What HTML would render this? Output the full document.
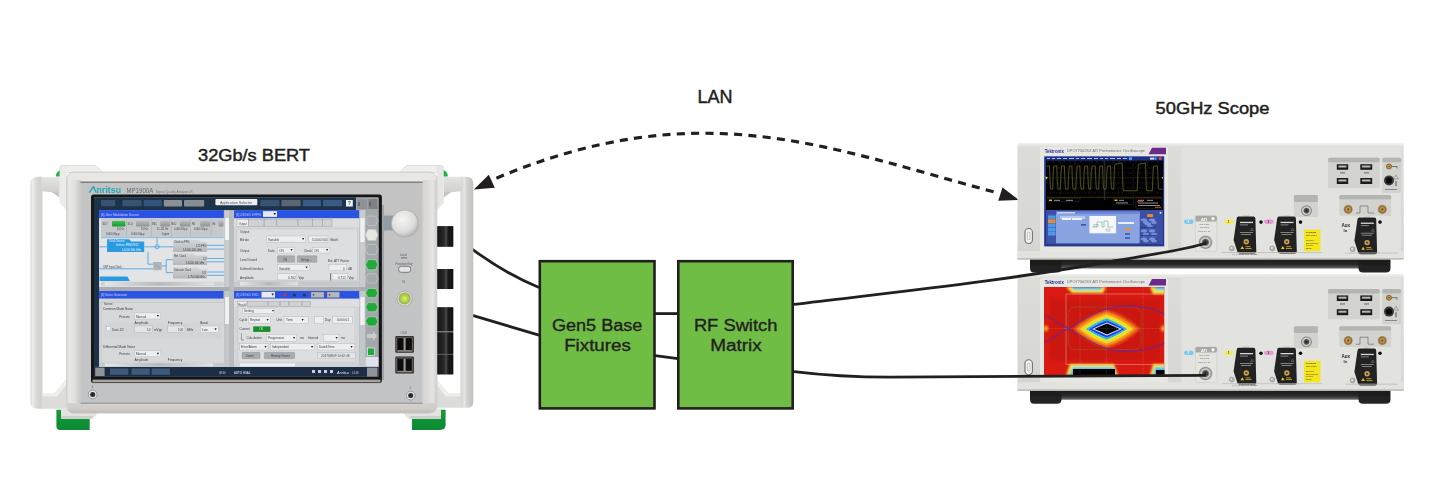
<!DOCTYPE html>
<html><head><meta charset="utf-8">
<style>
html,body{margin:0;padding:0;background:#fff;width:1439px;height:495px;overflow:hidden}
svg{display:block}
text{font-family:"Liberation Sans",sans-serif}
</style></head>
<body>
<svg width="1439" height="495" viewBox="0 0 1439 495">
<rect width="1439" height="495" fill="#fff"/>

<!-- ===== titles ===== -->
<text x="697.5" y="103" font-size="17.5" fill="#231f20" stroke="#231f20" stroke-width="0.45" textLength="35" lengthAdjust="spacingAndGlyphs">LAN</text>
<text x="198" y="160.8" font-size="17" fill="#231f20" stroke="#231f20" stroke-width="0.45" textLength="112" lengthAdjust="spacingAndGlyphs">32Gb/s BERT</text>
<text x="1155.6" y="114.2" font-size="15.6" fill="#231f20" stroke="#231f20" stroke-width="0.45" textLength="113.8" lengthAdjust="spacingAndGlyphs">50GHz Scope</text>

<!-- ===== dashed LAN arc ===== -->
<path d="M494.7,178.9 C700,92 828,147.8 998,193" fill="none" stroke="#231f20" stroke-width="3.2" stroke-dasharray="8.1 6.25" stroke-dashoffset="-1.8"/>
<polygon points="473.8,189.4 488.8,174.8 494.8,187.7" fill="#231f20"/>
<polygon points="1018.7,199.9 1002.5,187.4 998.2,200.7" fill="#231f20"/>

<!-- ===== green boxes ===== -->
<rect x="539.8" y="261.2" width="114.7" height="147.2" fill="#6fbd45" stroke="#231f20" stroke-width="2.6"/>
<rect x="678.3" y="261.2" width="114.4" height="147.2" fill="#6fbd45" stroke="#231f20" stroke-width="2.6"/>
<g font-size="16" fill="#231f20" stroke="#231f20" stroke-width="0.35">
<text x="551.9" y="330.7" textLength="90.5" lengthAdjust="spacingAndGlyphs">Gen5 Base</text>
<text x="564.2" y="351.4" textLength="66.6" lengthAdjust="spacingAndGlyphs">Fixtures</text>
<text x="693.9" y="330.7" textLength="83.5" lengthAdjust="spacingAndGlyphs">RF Switch</text>
<text x="710.2" y="351.4" textLength="51.5" lengthAdjust="spacingAndGlyphs">Matrix</text>
</g>

<!-- ===== cables ===== -->
<g fill="none" stroke="#231f20" stroke-width="2.8">
<path d="M471,248.4 Q507,274.7 539,287.5"/>
<path d="M472.5,315.4 L539,335.1"/>
<path d="M655,313.6 L678,313.6"/>
<path d="M655,355.7 L678,358.6"/>
</g>

<!-- BERT -->
<defs><filter id="soft" x="-2%" y="-2%" width="104%" height="104%"><feGaussianBlur stdDeviation="0.4"/></filter></defs>
<g id="bert" filter="url(#soft)">
<defs>
<linearGradient id="frameV" x1="0" y1="0" x2="1" y2="0">
<stop offset="0" stop-color="#d4d4d2"/><stop offset="0.012" stop-color="#e6e6e4"/><stop offset="0.035" stop-color="#c9c9c7"/><stop offset="0.96" stop-color="#cbcbc9"/><stop offset="0.985" stop-color="#dcdcda"/><stop offset="1" stop-color="#c4c4c2"/>
</linearGradient>
<linearGradient id="barL" x1="0" y1="0" x2="1" y2="0">
<stop offset="0" stop-color="#d8d8d6"/><stop offset="0.2" stop-color="#eeeeec"/><stop offset="0.45" stop-color="#dadad8"/><stop offset="0.85" stop-color="#d0d0ce"/><stop offset="1" stop-color="#dcdcda"/>
</linearGradient>
<linearGradient id="barR" x1="0" y1="0" x2="1" y2="0">
<stop offset="0" stop-color="#d0d0ce"/><stop offset="0.3" stop-color="#e6e6e4"/><stop offset="0.5" stop-color="#d2d2d0"/><stop offset="0.8" stop-color="#c6c7c5"/><stop offset="1" stop-color="#c0c1bf"/>
</linearGradient>
<linearGradient id="panelG" x1="0" y1="0" x2="0" y2="1">
<stop offset="0" stop-color="#c3c3c4"/><stop offset="1" stop-color="#c3c4c5"/>
</linearGradient>
<radialGradient id="knobG" cx="0.4" cy="0.35" r="0.7">
<stop offset="0" stop-color="#f4f4f3"/><stop offset="0.7" stop-color="#dcdcdb"/><stop offset="1" stop-color="#b5b6b6"/>
</radialGradient>
<radialGradient id="pwrG" cx="0.5" cy="0.5" r="0.5">
<stop offset="0" stop-color="#e8f450"/><stop offset="0.45" stop-color="#bcd848"/><stop offset="1" stop-color="#90b060"/>
</radialGradient>
<linearGradient id="greenFoot" x1="0" y1="0" x2="0" y2="1">
<stop offset="0" stop-color="#139a3a"/><stop offset="1" stop-color="#0f8a33"/>
</linearGradient>
</defs>

<!-- top blocks of handles -->
<defs>
<linearGradient id="armG" x1="0" y1="0" x2="0" y2="1"><stop offset="0" stop-color="#e2e2e0"/><stop offset="1" stop-color="#d2d2d0"/></linearGradient>
</defs>
<path d="M59.5,168 Q59.5,165.5 62,165.5 L96,165.5 L103,172.5 L59.5,172.5 Z" fill="#efefed" stroke="#d0d0ce" stroke-width="0.6"/>
<path d="M400,172.5 L406.5,165.5 L441,165.5 Q443.8,165.5 443.8,168 L443.8,172.5 Z" fill="#efefed" stroke="#d0d0ce" stroke-width="0.6"/>
<!-- left handle -->
<path d="M30.4,184 Q30.4,176.8 37.5,176.8 L42.6,176.8 L42.6,408.7 L37,408.7 Q30.4,408.7 30.4,402 Z" fill="url(#barL)"/>
<rect x="41.5" y="177.2" width="18.5" height="14.2" fill="url(#armG)"/>
<path d="M42.6,191.3 L52,192.3 L59.5,197.5 L59.5,191.3 Z" fill="#c6c6c4"/>
<path d="M59.5,165.9 L66.8,165.9 L66.8,210 L59.5,203 Z" fill="#ebebe9"/>
<path d="M59.6,170.5 Q55.6,172.5 56,176.5 L59.6,176.5 Z" fill="#22b04a"/>
<!-- lower left arm -->
<path d="M42,393.5 L54,393.5 L66.5,379 L66.5,408.7 L42,408.7 Z" fill="#dcdcda"/>
<path d="M42.6,393.5 L54,393.5 L66.5,379 L66.5,385 L57,396.5 L42.6,396.5 Z" fill="#eeeeec"/>
<!-- right handle -->
<path d="M460.5,176.8 L466,176.8 Q473.3,176.8 473.3,184 L473.3,402 Q473.3,407.8 467,407.8 L460.5,407.8 Z" fill="url(#barR)"/>
<rect x="443.8" y="176.8" width="17.5" height="14.5" fill="url(#armG)"/>
<path d="M461,191.3 L451,192.3 L443.8,197.5 L443.8,191.3 Z" fill="#c6c6c4"/>
<path d="M436.8,165.9 L443.8,165.9 L443.8,203 L436.8,210 Z" fill="#e6e6e4"/>
<path d="M443.7,170.3 Q448,172 447.8,176.5 L443.7,176.5 Z" fill="#22b04a"/>
<!-- lower right arm -->
<path d="M461,393 L448,393 L436.7,379 L436.7,407.8 L461,407.8 Z" fill="#dcdcda"/>
<path d="M460.5,393 L448,393 L436.7,379 L436.7,385 L446,396.5 L460.5,396.5 Z" fill="#eeeeec"/>
<!-- green feet -->
<path d="M56.4,409.7 L61,409.7 L61,418.8 L89.7,418.8 L89.7,429.9 L60,429.9 Q56.4,429.9 56.4,426 Z" fill="url(#greenFoot)"/>
<path d="M61,408.5 L101,408.5 L93,418.8 L61,418.8 Z" fill="#e4e3e0"/>
<path d="M61,416 L93,416 L91.5,418.8 L61,418.8 Z" fill="#cfcecb"/>
<path d="M445.6,409.7 L441,409.7 L441,418.8 L412,418.8 L412,429.9 L440,429.9 Q445.6,429.9 445.6,425 Z" fill="url(#greenFoot)"/>
<path d="M441,408.5 L400,408.5 L408,418.8 L441,418.8 Z" fill="#e4e3e0"/>
<path d="M441,416 L409.5,416 L410.5,418.8 L441,418.8 Z" fill="#cfcecb"/>
<!-- black connectors on right side -->
<g fill="#1c1c1d">
<rect x="437" y="226.3" width="16.2" height="20.3"/>
<rect x="437" y="269" width="16.2" height="20"/>
<rect x="437" y="307.4" width="16.2" height="24"/>
<rect x="437" y="332.2" width="16.2" height="21.6"/>
<rect x="437" y="354.5" width="16.2" height="19.8"/>
</g>
<defs><linearGradient id="connG" x1="0" y1="0" x2="1" y2="0"><stop offset="0" stop-color="#151515"/><stop offset="0.45" stop-color="#2a2a2a"/><stop offset="0.55" stop-color="#4a4a4a"/><stop offset="0.7" stop-color="#1a1a1a"/><stop offset="1" stop-color="#101010"/></linearGradient></defs>
<g fill="url(#connG)">
<rect x="437" y="226.3" width="16.2" height="20.3"/>
<rect x="437" y="269" width="16.2" height="20"/>
<rect x="437" y="307.4" width="16.2" height="24"/>
<rect x="437" y="332.2" width="16.2" height="21.6"/>
<rect x="437" y="354.5" width="16.2" height="19.8"/>
</g>
<rect x="438" y="331.7" width="15" height="0.6" fill="#8a8a8a"/>

<!-- main frame -->
<defs>
<linearGradient id="fL" x1="0" y1="0" x2="1" y2="0"><stop offset="0" stop-color="#d9d9d7"/><stop offset="0.15" stop-color="#e8e8e6"/><stop offset="0.55" stop-color="#e0e0de"/><stop offset="1" stop-color="#c6c6c4"/></linearGradient>
<linearGradient id="fR" x1="0" y1="0" x2="1" y2="0"><stop offset="0" stop-color="#d4d3d1"/><stop offset="0.4" stop-color="#dcdbd9"/><stop offset="0.75" stop-color="#e6e5e3"/><stop offset="1" stop-color="#cfcecc"/></linearGradient>
<linearGradient id="fB" x1="0" y1="0" x2="0" y2="1"><stop offset="0" stop-color="#d6d3cf"/><stop offset="0.7" stop-color="#cdcac6"/><stop offset="1" stop-color="#bdbab6"/></linearGradient>
</defs>
<rect x="66.7" y="172.1" width="370.1" height="241" rx="7" fill="#e9e7e4" stroke="#c2c2c0" stroke-width="0.8"/>
<rect x="67.2" y="180" width="13.6" height="225" fill="url(#fL)"/>
<rect x="422.6" y="180" width="13.8" height="225" fill="url(#fR)"/>
<path d="M67.2,403 L436.4,403 L436.4,406 Q436.4,412.7 429,412.7 L74,412.7 Q67.2,412.7 67.2,406 Z" fill="url(#fB)"/>
<!-- inner panel -->
<rect x="80.5" y="182" width="342.1" height="221.5" fill="url(#panelG)"/>
<rect x="80.5" y="181.5" width="342.1" height="1.5" fill="#7f7f7f"/>
<rect x="80.5" y="402.7" width="342.1" height="1" fill="#8e8e8e"/>
<!-- Anritsu logo -->
<path d="M89.3,192.7 L93.6,186.4 L96.2,192.7" fill="none" stroke="#1fa9b4" stroke-width="1.35" stroke-linejoin="bevel"/>
<text x="96.6" y="192.7" font-size="8.6" font-weight="bold" fill="#1fa9b4" textLength="24.5" lengthAdjust="spacingAndGlyphs">nritsu</text>
<text x="126.5" y="192.9" font-size="6.9" fill="#65676b" textLength="26.7" lengthAdjust="spacingAndGlyphs">MP1900A</text>
<text x="155.7" y="192.6" font-size="3.4" fill="#76787c" textLength="37" lengthAdjust="spacingAndGlyphs">Signal Quality Analyzer-R</text>
<!-- screen black frame -->
<rect x="91" y="194.4" width="290.9" height="188.5" rx="2.5" fill="#141517"/>
<rect x="92.5" y="379.6" width="288" height="2.6" fill="#aaa39b"/>
<rect x="92.5" y="382.2" width="288" height="0.9" fill="#5a5a5a"/>
<rect x="382" y="205" width="2" height="175" fill="#9fa3a6"/>

<!-- knob -->
<rect x="383.5" y="215.5" width="10" height="15" fill="#929ba2"/>
<circle cx="405" cy="223.6" r="14" fill="#b3b4b4"/>
<circle cx="404.8" cy="223.3" r="12.8" fill="url(#knobG)"/>
<!-- function key -->
<text x="400" y="256" font-size="2.8" fill="#55585c">Local</text>
<rect x="401" y="257.5" width="6" height="0.8" fill="#55585c"/>
<text x="395.5" y="265" font-size="3" fill="#55585c" textLength="17">Function Key</text>
<rect x="398.6" y="266.3" width="12.1" height="6" rx="2.5" fill="#e4e4e3" stroke="#6f7275" stroke-width="0.9"/>
<text x="402" y="283" font-size="4" fill="#55585c">&#x23FB;</text>
<circle cx="404.6" cy="298.6" r="7.6" fill="#d6dccf" stroke="#9ea592" stroke-width="0.7"/>
<circle cx="404.6" cy="298.6" r="6" fill="url(#pwrG)"/>
<!-- USB -->
<text x="400.5" y="334.3" font-size="3" fill="#6a6c70">USB</text>
<g id="usbblk">
<rect x="395.3" y="336" width="18.6" height="16.8" rx="1.2" fill="#2c2b2a"/>
<rect x="396.6" y="337.3" width="16" height="14.2" rx="0.6" fill="none" stroke="#8d8a86" stroke-width="0.6"/>
<rect x="397.8" y="338.6" width="5.6" height="11.5" fill="#0e0e0e"/>
<rect x="405.8" y="338.6" width="5.6" height="11.5" fill="#0e0e0e"/>
<rect x="403.6" y="338" width="2" height="12.5" fill="#9e9a94"/>
<rect x="397.5" y="350.3" width="14.2" height="0.9" fill="#a8a49e"/>
</g>
<use href="#usbblk" transform="translate(0,20.6)"/>
<g fill="#3a3a3a" opacity="0.9"><rect x="412.5" y="340" width="1" height="3"/></g>
<!-- headphone jacks -->
<circle cx="92.7" cy="394.5" r="4.4" fill="#e2e2e0" stroke="#8a8b8c" stroke-width="0.8"/><circle cx="92.7" cy="394.5" r="2.5" fill="#2a2a2a"/>
<circle cx="410.7" cy="395.6" r="4.4" fill="#e2e2e0" stroke="#8a8b8c" stroke-width="0.8"/><circle cx="410.7" cy="395.6" r="2.5" fill="#2a2a2a"/>
<text x="90.5" y="388" font-size="4" fill="#6a6c6e">&#x23DA;</text>
<text x="408.5" y="389" font-size="4" fill="#6a6c6e">&#x23DA;</text>


<g id="screen">
<!-- base -->
<rect x="94" y="197.5" width="284.5" height="179" fill="#a9adb1"/>
<!-- toolbar -->
<rect x="94" y="197.5" width="262" height="12.7" fill="#1f3049"/>
<g fill="#37526f">
<rect x="101" y="200" width="14.3" height="6.2" rx="0.8"/>
<rect x="122.4" y="200" width="19.2" height="6.2" rx="0.8"/>
<rect x="143.6" y="200" width="18.2" height="6.2" rx="0.8" fill="#31527a"/>
<rect x="163.8" y="200" width="18.2" height="6.5" rx="0.8" fill="#8d9093"/>
<rect x="184" y="200" width="20.2" height="6.5" rx="0.8" fill="#8b8e91"/>
<rect x="260.3" y="200" width="19.2" height="6.2" rx="0.8"/>
<rect x="281.5" y="200" width="19.2" height="6.2" rx="0.8" fill="#5d6570"/>
<rect x="302.7" y="200" width="18.3" height="6.2" rx="0.8" fill="#3a5a88"/>
<rect x="323" y="200" width="19" height="6.2" rx="0.8" fill="#3a5a88"/>
</g>
<rect x="215.4" y="199" width="41.9" height="6.2" rx="0.8" fill="#eceeef"/>
<text x="220" y="203.5" font-size="3" fill="#555" textLength="32" lengthAdjust="spacingAndGlyphs">Application Selector</text>
<rect x="346" y="200" width="6.8" height="6.5" fill="#f4f4f6"/>
<text x="347.8" y="205.3" font-size="5" fill="#2a3fae" font-weight="bold">?</text>
<!-- left dark sidebar -->
<rect x="94" y="209.2" width="5.1" height="157.7" fill="#1f3049"/>
<!-- right sidebar -->
<rect x="356" y="197.5" width="22.5" height="12" fill="#a2a6aa"/>
<rect x="365.4" y="209" width="13.1" height="158" fill="#a4a8ac"/>
<rect x="357.3" y="199" width="10" height="10" fill="#8e9296"/>
<rect x="368.4" y="199" width="9.1" height="10" fill="#7d8185"/>
<rect x="358.5" y="202" width="1" height="4" fill="#444"/><rect x="369.5" y="202" width="1" height="4" fill="#444"/>
<!-- hexagon buttons -->
<g stroke="#c3c6c9" stroke-width="0.8" fill="#a5a9ad">
<path d="M368,216 L375.5,216 L378,220.7 L375.5,225.4 L368,225.4 L365.5,220.7 Z"/>
<path d="M368,244.5 L375.5,244.5 L378,249.5 L375.5,254.6 L368,254.6 L365.5,249.5 Z"/>
<path d="M368,273.8 L375.5,273.8 L378,278.4 L375.5,283 L368,283 L365.5,278.4 Z"/>
</g>
<path d="M368,229.4 L375.5,229.4 L378,235 L375.5,240.5 L368,240.5 L365.5,235 Z" fill="#e3e9df" stroke="#c3c6c9" stroke-width="0.6"/>
<g fill="#22a83b" stroke="#b7dcb9" stroke-width="0.6">
<path d="M368,259.7 L375.5,259.7 L378,264.7 L375.5,269.8 L368,269.8 L365.5,264.7 Z"/>
<path d="M368,288.5 L375.5,288.5 L378,293 L375.5,297.6 L368,297.6 L365.5,293 Z"/>
<path d="M368,302.6 L375.5,302.6 L378,307.1 L375.5,311.7 L368,311.7 L365.5,307.1 Z"/>
<path d="M368,316.8 L375.5,316.8 L378,321.3 L375.5,325.9 L368,325.9 L365.5,321.3 Z"/>
</g>
<path d="M367,334 L373,334 L373,331 L377,336 L373,341 L373,338 L367,338 Z" fill="#c9ccce"/>
<rect x="367.5" y="348" width="7" height="7.5" fill="#22a83b" stroke="#fff" stroke-width="0.6"/>
<rect x="365.4" y="357" width="13" height="9.5" fill="#dfe3ec"/>
<rect x="368" y="368" width="5" height="6" fill="#7f8388"/>

<!-- panel TL -->
<rect x="99.1" y="210.2" width="124.7" height="8.1" fill="#2b53e3"/>
<text x="101" y="215.8" font-size="3" fill="#c8d4ff" textLength="38" lengthAdjust="spacingAndGlyphs">[4] Jitter Modulation Source</text>
<rect x="99.1" y="218.3" width="125.3" height="68.7" fill="#e2e4e6"/>
<rect x="224.4" y="210.2" width="5.1" height="76.8" fill="#c9cbcd"/>
<rect x="225" y="218" width="4" height="22" fill="#f2f3f4"/>
<defs><linearGradient id="btnG" x1="0" y1="0" x2="0" y2="1"><stop offset="0" stop-color="#b8bbbe"/><stop offset="1" stop-color="#8e9296"/></linearGradient>
<linearGradient id="blkG" x1="0" y1="0" x2="0" y2="1"><stop offset="0" stop-color="#d4d6d8"/><stop offset="1" stop-color="#b4b7ba"/></linearGradient>
<linearGradient id="onG" x1="0" y1="0" x2="0" y2="1"><stop offset="0" stop-color="#3cc450"/><stop offset="1" stop-color="#149a2a"/></linearGradient></defs>
<rect x="101" y="218.8" width="122.8" height="18.2" fill="#c6c9cc"/>
<g fill="#a9adb1"><rect x="126" y="219" width="0.5" height="18"/><rect x="151" y="219" width="0.5" height="18"/><rect x="170.8" y="219" width="0.5" height="18"/><rect x="190.5" y="219" width="0.5" height="18"/><rect x="210.9" y="219" width="0.5" height="18"/></g>
<rect x="112" y="221" width="13.3" height="5.4" rx="1" fill="url(#onG)"/>
<g fill="url(#btnG)">
<rect x="136" y="221" width="13.5" height="5.4" rx="1"/><rect x="160.2" y="221" width="9.8" height="5.4" rx="1"/>
<rect x="179.8" y="221" width="10.7" height="5.4" rx="1"/><rect x="200.3" y="221" width="9.9" height="5.4" rx="1"/><rect x="218.5" y="221" width="5" height="5.4" rx="1"/>
</g>
<g fill="#3e4145" font-size="2.6">
<text x="102.6" y="224.8">SUT</text><text x="127.6" y="224.8">SLD</text><text x="151.8" y="224.8">SSC</text><text x="171.5" y="224.8">BUJ</text><text x="192" y="224.8">RJ</text><text x="212.4" y="224.8">E4</text>
<text x="117" y="230.3">10 Hz</text><text x="106" y="234.6">0.000 UIp-p</text>
<text x="141" y="230.3">10 Hz</text><text x="131" y="234.6">0.000 UIp-p</text>
<text x="157" y="230.3">11.111 Hz</text><text x="162" y="234.6">0 ppm</text>
<text x="174" y="230.3">0.000 UIp-p</text><text x="194" y="230.3">0.000 UIp-p</text>
</g>
<rect x="101" y="237.3" width="122.8" height="0.8" fill="#6fb6e6"/>
<path d="M107.1,239.2 L129,239.2 L131.5,241.5 L144.2,241.5 L144.2,252.1 L107.1,252.1 Z" fill="#2a9be0"/>
<g fill="#e8f4ff" font-size="2.6"><text x="109" y="242.3">Clock Source</text><text x="116" y="246.3">Intrinsic PRBS/SSC</text><text x="122" y="250.8">14.000 000 GHz</text></g>
<g fill="url(#blkG)">
<path d="M173,240 L199,240 L201,242 L207.1,242 L207.1,252.1 L173,252.1 Z"/>
<path d="M173,253.6 L194,253.6 L196,255.6 L207.1,255.6 L207.1,265 L173,265 Z"/>
<path d="M173,267.3 L198,267.3 L200,269.3 L207.1,269.3 L207.1,278.6 L173,278.6 Z"/>
</g>
<g fill="#3e4145" font-size="2.6">
<text x="174" y="243.2">Clock to PPG</text><text x="196" y="246.8">125 PPG</text><text x="183" y="251">14.000 000 GHz</text>
<text x="174" y="257">Ref. Clock</text><text x="203" y="260.3">1/1</text><text x="186" y="264.3">14.000 000 kHz</text>
<text x="174" y="270.6">Sub-rate Clock</text><text x="202" y="274">1/8</text><text x="188" y="278">1.750 000 kHz</text>
</g>
<g stroke="#3d9ee0" stroke-width="0.8" fill="none">
<path d="M99.5,246.8 L107,246.8 M144.2,246.8 L173,246.8 M207.1,245.3 L224,245.3 M207.1,249.1 L224,249.1"/>
<path d="M157.1,237.5 L157.1,244.8"/>
<circle cx="157.1" cy="246.8" r="2"/>
<path d="M148,252.1 L148,264.2 L153.3,264.2 M99.5,268.8 L153.3,268.8 M161.7,266 L166.2,266 L166.2,259.7 L173,259.7 M166.2,266 L166.2,272.6 L173,272.6"/>
<path d="M207.1,258.5 L224,258.5 M207.1,261.8 L224,261.8 M207.1,272 L224,272 M207.1,275.3 L224,275.3"/>
</g>
<rect x="153.3" y="262" width="8.4" height="8.3" fill="#b2b5b8"/>
<path d="M154.5,264 L160.5,268" stroke="#3d9ee0" stroke-width="0.5"/>
<text x="103" y="268" font-size="2.6" fill="#3e4145">SSP Input Clock</text>
<path d="M99.5,276.4 L127.5,276.4 L129.8,280.9 L99.5,280.9 Z" fill="#2a9be0"/>
<rect x="101" y="281.7" width="122.8" height="4.5" fill="#cfd2d4"/>
<rect x="104.8" y="282.3" width="109.1" height="3.2" fill="url(#thumbG)"/>

<!-- panel TR -->
<rect x="234" y="210.2" width="125.3" height="8.1" fill="#2b53e3"/>
<text x="236" y="215.8" font-size="3" fill="#c8d4ff">[3] 2/32G/5 S PPG</text>
<rect x="263" y="211.2" width="14" height="5.7" fill="#e8eaec"/>
<path d="M273.5,213 L276,213 L274.75,215.3 Z" fill="#222"/>
<rect x="234" y="218.3" width="125.3" height="68.7" fill="#d4d6d8"/>
<rect x="359.5" y="210.2" width="5.9" height="76.8" fill="#c9cbcd"/>
<rect x="360.3" y="218" width="4.3" height="24" fill="#eef0f1"/>
<rect x="234" y="219" width="125.3" height="7.6" fill="#dcdee0"/>
<g fill="#cfd2d4" stroke="#8a8e92" stroke-width="0.35">
<rect x="237" y="219.6" width="11.2" height="6.8" fill="#eceeef"/>
<rect x="248.8" y="219.6" width="15.2" height="6.8"/><rect x="264.4" y="219.6" width="12.1" height="6.8"/>
<rect x="276.9" y="219.6" width="20.8" height="6.8"/><rect x="298.1" y="219.6" width="14.3" height="6.8"/>
<rect x="312.8" y="219.6" width="9.5" height="6.8"/><rect x="322.7" y="219.6" width="9.3" height="6.8"/>
</g>
<rect x="237" y="229" width="120.3" height="51.5" fill="#dcdee0" stroke="#c0c3c6" stroke-width="0.4"/>
<g fill="#eceeef" stroke="#a8acb0" stroke-width="0.35">
<rect x="266.4" y="236" width="39.4" height="6.1"/><rect x="308.8" y="236" width="19.2" height="6.1"/>
<rect x="277.5" y="247.2" width="17.2" height="5.8"/><rect x="312.8" y="247.2" width="17.2" height="5.8"/>
<rect x="277.5" y="264.7" width="32.3" height="6.1"/><rect x="329" y="264.7" width="17.2" height="6.1"/>
<rect x="277.5" y="273.8" width="19.2" height="6.1"/><rect x="332" y="273.8" width="15.2" height="6.1"/>
</g>
<rect x="277.5" y="255.7" width="17.2" height="6.6" rx="0.6" fill="#a9acaf" stroke="#7a7e82" stroke-width="0.3"/>
<rect x="297.3" y="255.7" width="19.6" height="6.6" rx="0.6" fill="#a9acaf" stroke="#7a7e82" stroke-width="0.3"/>
<g fill="#222"><path d="M302,238 h2.2 l-1.1,2 z M290.5,249 h2.2 l-1.1,2 z M326,249 h2.2 l-1.1,2 z M305.5,266.6 h2.2 l-1.1,2 z"/></g>
<rect x="330.2" y="273" width="0.6" height="7.5" fill="#444"/>
<g fill="#3e4145" font-size="3.1">
<text x="239" y="224.8" font-size="2.6">Output</text>
<text x="240" y="233">Output</text>
<text x="240" y="240.5">Bitrate</text><text x="268" y="240.5">Variable</text><text x="312" y="240.5">10.000 000</text><text x="330" y="240.5">Gbit/s</text>
<text x="240" y="251.5">Output</text><text x="268" y="251.5">Data</text><text x="279" y="251.5">ON</text><text x="304" y="251.5">Clock</text><text x="314" y="251.5">ON</text>
<text x="240" y="260.5">Level Guard</text><text x="283" y="260.5">Off</text><text x="301" y="260.5">Setup...</text><text x="328" y="262">Ext. ATT Factor</text>
<text x="240" y="269.5">Defined Interface</text><text x="279" y="269.5">Variable</text><text x="343" y="269.5">0</text><text x="348" y="269.5">dB</text>
<text x="240" y="278.5">Amplitude</text><text x="288" y="278.5">0.762</text><text x="298.5" y="278.5">Vpp</text><text x="338" y="278.5">0.712</text><text x="348.5" y="278.5">Vpp</text>
</g>
<rect x="234" y="281.3" width="125.3" height="5" fill="#c6c9cc"/>
<defs><linearGradient id="thumbG" x1="0" y1="0" x2="1" y2="0"><stop offset="0" stop-color="#e6e7e8"/><stop offset="0.5" stop-color="#b6b8ba"/><stop offset="1" stop-color="#e2e3e4"/></linearGradient></defs>
<rect x="240" y="282" width="57.7" height="3.4" fill="url(#thumbG)"/>
<rect x="229.5" y="210.2" width="4.5" height="157" fill="#b9bcbf"/>

<!-- panel BL -->
<rect x="99.1" y="291" width="124.3" height="7.7" fill="#2b53e3"/>
<text x="101" y="296.3" font-size="3" fill="#c8d4ff">[6] Noise Generator</text>
<rect x="99.1" y="298.7" width="125.3" height="68.2" fill="#d2d4d6"/>
<rect x="224.4" y="291" width="5.1" height="76" fill="#c4c7c9"/>
<rect x="225" y="297" width="4" height="27" fill="#eef0f1"/>
<rect x="101.1" y="302.2" width="123.3" height="63.7" fill="#d6d8da" stroke="#b8bbbe" stroke-width="0.4"/>
<rect x="104" y="323" width="118" height="16" fill="#cfd3d5" opacity="0.6"/>
<g fill="#eceeef" stroke="#a8acb0" stroke-width="0.35">
<rect x="134.5" y="312.9" width="26.3" height="6.1"/>
<rect x="134.5" y="326" width="17.8" height="6.5" fill="#e2e4e6"/><rect x="167.8" y="326" width="17.2" height="6.5" fill="#e2e4e6"/><rect x="200.2" y="326" width="18.2" height="6.5"/>
<rect x="134.5" y="350.7" width="26.3" height="6.1"/>
<rect x="106.6" y="326.8" width="3.8" height="4" fill="#f2f3f4"/>
</g>
<g fill="#222"><path d="M156.8,315 h2.2 l-1.1,2 z M214.5,328.3 h2.2 l-1.1,2 z M156.8,352.8 h2.2 l-1.1,2 z"/></g>
<g fill="#3e4145" font-size="3.1">
<text x="104" y="304.6" font-size="2.7">Source</text>
<text x="103" y="310">Common Mode Noise</text>
<text x="119.3" y="317.5">Presets</text><text x="136" y="317.5">Manual</text>
<text x="134.5" y="323.6">Amplitude</text><text x="167.8" y="323.6">Frequency</text><text x="200.2" y="323.6">Band</text>
<text x="112" y="330.9">Data 1/2</text><text x="147" y="330.9">10</text><text x="154" y="330.9">mVpp</text><text x="178" y="330.9">100</text><text x="187" y="330.9">MHz</text><text x="202" y="330.9">Low</text>
<text x="103" y="347.8">Differential Mode Noise</text>
<text x="119.3" y="355.3">Presets</text><text x="136" y="355.3">Manual</text>
<text x="134.5" y="361">Amplitude</text><text x="167.8" y="361">Frequency</text>
</g>
<rect x="99.1" y="362.8" width="125.3" height="4.1" fill="#c6c9cc"/>
<rect x="105" y="363.4" width="108" height="2.9" fill="url(#thumbG)"/>

<!-- panel BR -->
<rect x="234" y="291" width="125.3" height="7.7" fill="#2b53e3"/>
<text x="236" y="296.3" font-size="3" fill="#c8d4ff">[3] 2/32G/5 S ED</text>
<rect x="261.5" y="291.8" width="13.5" height="5.8" fill="#e8eaec"/>
<path d="M271.5,293.5 L274,293.5 L272.75,295.8 Z" fill="#222"/>
<circle cx="284.8" cy="294.9" r="1.5" fill="#e02a2a"/><circle cx="294.5" cy="294.9" r="1.5" fill="#333"/><circle cx="304.3" cy="294.9" r="1.5" fill="#333"/>
<rect x="311" y="292" width="13" height="5.6" fill="#b4b8bc" stroke="#6a6e72" stroke-width="0.3"/><rect x="327" y="292" width="12.5" height="5.6" fill="#b4b8bc" stroke="#6a6e72" stroke-width="0.3"/>
<circle cx="313.5" cy="294.8" r="0.9" fill="#1a7a2a"/><circle cx="329.5" cy="294.8" r="0.9" fill="#d02020"/>
<rect x="234" y="298.7" width="125.3" height="68.2" fill="#d4d6d8"/>
<rect x="359.5" y="291" width="5.9" height="76" fill="#c4c7c9"/>
<rect x="360.3" y="297" width="4.3" height="28" fill="#eef0f1"/>
<rect x="234" y="299.5" width="125.3" height="7.3" fill="#dcdee0"/>
<g fill="#cfd2d4" stroke="#8a8e92" stroke-width="0.35">
<rect x="237.3" y="301.5" width="9.5" height="5.3" fill="#eceeef"/>
<rect x="247.3" y="301.5" width="20.5" height="5.3"/><rect x="268.3" y="301.5" width="11.5" height="5.3"/>
<rect x="280.3" y="301.5" width="8.5" height="5.3"/><rect x="289.3" y="301.5" width="12.5" height="5.3"/><rect x="302.3" y="301.5" width="8.5" height="5.3"/>
</g>
<rect x="238" y="307" width="117" height="55" fill="#dcdee0" stroke="#c0c3c6" stroke-width="0.4"/>
<g fill="#eceeef" stroke="#a8acb0" stroke-width="0.35">
<rect x="242.5" y="308.2" width="32.3" height="5.5"/>
<rect x="248.6" y="316.7" width="21.8" height="6.7"/><rect x="284" y="316.7" width="24.4" height="6.7"/>
<rect x="314.8" y="316.7" width="8.5" height="6.7"/><rect x="332.6" y="316.7" width="19.6" height="6.7"/>
<rect x="266.4" y="334.5" width="30.3" height="6.7"/><rect x="323.3" y="334.5" width="15.7" height="6.7"/>
<rect x="239.7" y="343.6" width="28.3" height="6.4"/><rect x="270.8" y="343.6" width="44" height="6.4"/><rect x="317.3" y="343.6" width="37.5" height="6.4"/>
<rect x="317.3" y="352.3" width="38" height="6.4" fill="#e2e4e6"/>
</g>
<g fill="#222"><path d="M272,310 h2 l-1,1.8 z M266.5,319 h2.2 l-1.1,2 z M301.5,319 h2.2 l-1.1,2 z M293,337 h2.2 l-1.1,2 z M335.5,337 h2.2 l-1.1,2 z M264.5,346 h2.2 l-1.1,2 z M311,346 h2.2 l-1.1,2 z M350.5,346 h2.2 l-1.1,2 z"/></g>
<rect x="253.2" y="326.4" width="17.2" height="5.5" fill="#1b8c2c"/>
<text x="259.5" y="330.3" font-size="2.6" fill="#d8f0d8">OK</text>
<rect x="242" y="352.3" width="18" height="6.4" rx="0.6" fill="#a9acaf" stroke="#7a7e82" stroke-width="0.3"/>
<rect x="264.3" y="352.3" width="30.3" height="6.4" rx="0.6" fill="#a9acaf" stroke="#7a7e82" stroke-width="0.3"/>
<path d="M241.5,333 L241.5,340 L244,340" fill="none" stroke="#555" stroke-width="0.5"/>
<g fill="#3e4145" font-size="3.1">
<text x="244" y="312.3">Setting</text>
<text x="239.5" y="321.3">Cycle</text><text x="250" y="321.3">Repeat</text><text x="276.5" y="321.3">Unit</text><text x="286" y="321.3">Time</text><text x="325" y="321.3">Day</text><text x="337" y="321.3">00:00:01</text>
<text x="239.5" y="329.8">Current</text><text x="246.5" y="339">Calculation</text><text x="268" y="339">Progressive</text><text x="300" y="339">ms</text><text x="308" y="339">Interval</text><text x="341" y="339">ms</text>
<text x="241" y="348.2">Error/Alarm</text><text x="272" y="348.2">Independent</text><text x="319" y="348.2">Date&amp;Time</text>
<text x="246" y="356.7">Zoom</text><text x="271" y="356.7">History Reset</text><text x="321" y="356.7">2017/08/09 14:42:48</text>
<text x="238.5" y="305.5" font-size="2.6">Result</text>
</g>
<rect x="234" y="362.8" width="125.3" height="4.1" fill="#cfd2d4"/>
<rect x="240" y="363.4" width="55" height="2.9" fill="#eef0f1"/>

<!-- taskbar -->
<rect x="94" y="367" width="284.5" height="9.7" fill="#1c2d45"/>
<rect x="95.2" y="367.6" width="9.4" height="8.4" fill="#8f9499"/>
<rect x="367" y="367.6" width="10.5" height="9" fill="#8f9499"/>
<g fill="#3f5a7c">
<rect x="110" y="368.5" width="18.4" height="6.3"/><rect x="131.5" y="368.5" width="18.2" height="6.3"/><rect x="151.7" y="368.5" width="18.2" height="6.3"/>
</g>
<text x="219" y="373.5" font-size="2.8" fill="#c8d0dc">0E30</text>
<text x="234" y="373.5" font-size="2.8" fill="#c8d0dc" font-weight="bold">AUTO HGAL</text>
<g fill="#c8d0dc"><rect x="312" y="370" width="3" height="3"/><rect x="318" y="370" width="3" height="3"/><rect x="324" y="370" width="3" height="3"/><rect x="330" y="370" width="3" height="3"/></g>
<text x="337" y="374" font-size="3.8" font-style="italic" fill="#e4e8ee">Anritsu</text>
<text x="352" y="373.5" font-size="2.6" fill="#c8d0dc">14:48</text>
</g>

</g>

<!-- SCOPES -->
<g id="scopes" filter="url(#soft)">
<defs>
<linearGradient id="scTop" x1="0" y1="0" x2="0" y2="1">
<stop offset="0" stop-color="#f2f2ef"/><stop offset="1" stop-color="#dcdcd8"/>
</linearGradient>
<linearGradient id="scBody" x1="0" y1="0" x2="0" y2="1">
<stop offset="0" stop-color="#dcdcd8"/><stop offset="0.85" stop-color="#d7d7d3"/><stop offset="1" stop-color="#d2d2ce"/>
</linearGradient>
<linearGradient id="feetG" x1="0" y1="0" x2="0" y2="1">
<stop offset="0" stop-color="#1a1a1a"/><stop offset="1" stop-color="#262626"/>
</linearGradient>
<radialGradient id="brass" cx="0.5" cy="0.5" r="0.5">
<stop offset="0" stop-color="#4a3418"/><stop offset="0.35" stop-color="#c89a4a"/><stop offset="0.75" stop-color="#8a6a3a"/><stop offset="1" stop-color="#c0c0b8"/>
</radialGradient>
<radialGradient id="silverC" cx="0.5" cy="0.5" r="0.5">
<stop offset="0" stop-color="#222"/><stop offset="0.4" stop-color="#555"/><stop offset="0.6" stop-color="#d8d8d4"/><stop offset="0.85" stop-color="#8d8d88"/><stop offset="1" stop-color="#c9c9c4"/>
</radialGradient>
<g id="scopeBody">
<!-- feet / base -->
<defs><linearGradient id="baseG" x1="0" y1="0" x2="0" y2="1"><stop offset="0" stop-color="#1c1c1c"/><stop offset="0.6" stop-color="#2a2a2a"/><stop offset="1" stop-color="#6a6a6a"/></linearGradient></defs>
<rect x="1058" y="259" width="302" height="9.5" fill="url(#baseG)"/>
<path d="M1030,259 L1061.5,259 L1061.5,268 Q1061.5,272.5 1057,272.5 L1034,272.5 Q1030,272.5 1030,268 Z" fill="url(#feetG)"/>
<path d="M1358.5,259 L1390.5,259 L1390.5,268 Q1390.5,272.5 1386,272.5 L1363,272.5 Q1358.5,272.5 1358.5,268 Z" fill="url(#feetG)"/>
<!-- body -->
<path d="M1017.5,147 Q1017.5,143 1022,143 L1399.5,143 Q1403.7,143 1403.7,147 L1403.7,259.5 L1017.5,259.5 Z" fill="url(#scBody)"/>
<rect x="1018" y="143" width="385.5" height="4" fill="url(#scTop)"/>
<rect x="1017.5" y="251" width="386" height="7.5" fill="#e2e2de"/>
<rect x="1017.5" y="258.2" width="386" height="1.3" fill="#b8b8b4"/>
<!-- right panel plate -->
<path d="M1181.5,150 Q1181.5,146.5 1185,146.5 L1401,146.5 L1401,255 L1181.5,255 Z" fill="#e2e2de"/>
<!-- screen bezel plate -->
<rect x="1040" y="146.5" width="128" height="105" rx="2" fill="#e6e6e2"/>
<!-- left button -->
<rect x="1025" y="228.5" width="7.4" height="15" rx="3.7" fill="#f6f6f4" stroke="#6f7072" stroke-width="1.1"/>
<rect x="1027.4" y="232" width="2.6" height="8" rx="1.3" fill="none" stroke="#8a8b8c" stroke-width="0.5"/>
<!-- header text -->
<text x="1044.8" y="152.5" font-size="5" font-weight="bold" fill="#2a2f8f" textLength="19" lengthAdjust="spacingAndGlyphs" font-family="Liberation Serif">Tektronix</text>
<text x="1067" y="152.3" font-size="4.2" fill="#707070" textLength="78" lengthAdjust="spacingAndGlyphs" font-family="Liberation Serif">DPO77002SX  ATI Performance Oscilloscope</text>
<path d="M1152,147.8 L1166,147.8 L1166,154.2 L1148.5,154.2 Z" fill="#6c2a8a"/>
<!-- USB panel -->
<rect x="1328" y="157.7" width="51.7" height="30.3" rx="1.5" fill="#d2d3cf"/>
<rect x="1328" y="157.7" width="51.7" height="4.5" rx="1.5" fill="#b4b5b2"/>
<g fill="#1e1e1e">
<rect x="1336.8" y="164.2" width="11.4" height="5.6"/><rect x="1360.3" y="164.2" width="11.9" height="5.6"/>
<rect x="1336.8" y="178" width="11.4" height="6"/><rect x="1360.3" y="178" width="11.9" height="6"/>
</g>
<g fill="#b6b6b2"><rect x="1338.5" y="165.5" width="8" height="2"/><rect x="1362" y="165.5" width="8.5" height="2"/><rect x="1338.5" y="179.5" width="8" height="2"/><rect x="1362" y="179.5" width="8.5" height="2"/></g>
<g fill="#8a8b88"><rect x="1340" y="172" width="5" height="1.5"/><rect x="1364" y="172" width="5" height="1.5"/></g>
<!-- ground panel -->
<rect x="1382.3" y="157.7" width="18.9" height="35.3" rx="1.5" fill="#d2d3cf"/>
<rect x="1382.3" y="157.7" width="18.9" height="4.5" rx="1.5" fill="#b4b5b2"/>
<circle cx="1389" cy="166.5" r="3.3" fill="url(#brass)"/>
<path d="M1392,166.5 L1397,166.5 L1397,168.5" stroke="#333" stroke-width="0.6" fill="none"/>
<circle cx="1389" cy="180.4" r="5" fill="#3a3a3a"/><circle cx="1389" cy="180.4" r="3.2" fill="#111"/>
<path d="M1396,175 L1398.5,179 L1393.5,179 Z" fill="none" stroke="#555" stroke-width="0.4"/>
<rect x="1395.6" y="181" width="0.8" height="5" fill="#333"/>
<rect x="1385" y="189" width="12" height="0.8" fill="#777"/>
<!-- DC probe cal -->
<rect x="1293.9" y="195" width="24" height="22" rx="1.5" fill="#d2d3cf"/>
<rect x="1293.9" y="195" width="24" height="6.9" rx="1.5" fill="#b4b5b2"/>
<circle cx="1306.5" cy="210.7" r="5.8" fill="url(#silverC)"/>
<!-- diff panel -->
<rect x="1339.3" y="195" width="51.8" height="20.7" rx="1.5" fill="#d2d3cf"/>
<rect x="1339.3" y="195" width="51.8" height="4.3" rx="1.5" fill="#b4b5b2"/>
<circle cx="1348.2" cy="209.4" r="4.8" fill="url(#brass)"/>
<circle cx="1382.3" cy="209.4" r="4.8" fill="url(#brass)"/>
<path d="M1356,213 L1360,213 L1360,206 L1368,206 L1368,213 L1374,213" stroke="#444" stroke-width="0.5" fill="none"/>
<text x="1341.5" y="226.5" font-size="4.6" font-weight="bold" fill="#2a2a2a">Aux</text>
<text x="1343.5" y="232" font-size="4.2" font-weight="bold" fill="#2a2a2a">In</text>
<!-- ATI panel -->
<rect x="1195.4" y="215.8" width="21.5" height="35.4" rx="1.5" fill="#e4e4e0" stroke="#c9c9c5" stroke-width="0.5"/>
<rect x="1195.4" y="215.8" width="21.5" height="5.6" rx="1.5" fill="#a8a9a6"/>
<text x="1201" y="220.6" font-size="4" font-weight="bold" fill="#fff">ATI</text>
<circle cx="1213" cy="218.6" r="1.6" fill="#fff"/>
<g fill="#666" font-size="1.8"><text x="1199" y="225">Input Voltage</text><text x="1200" y="227.5">300 mVrms</text><text x="1198" y="232">Torque 8 in. lbs</text></g>
<circle cx="1205.5" cy="242.3" r="7" fill="url(#silverC)"/>
<!-- channel labels -->
<rect x="1184" y="219.6" width="9.6" height="4.3" rx="2.1" fill="#7cc8ee"/>
<rect x="1224.4" y="219.6" width="9.4" height="4.3" rx="2.1" fill="#f2ea5a"/>
<rect x="1264" y="219.6" width="9.7" height="4.3" rx="2.1" fill="#e79ad8"/>
<circle cx="1261" cy="222.1" r="1.8" fill="#111"/><circle cx="1300.5" cy="222.1" r="1.8" fill="#111"/><circle cx="1380" cy="222.1" r="1.8" fill="#111"/>
<!-- modules -->
<g transform="translate(0,0)">
<rect x="1243" y="214.8" width="6" height="2.5" fill="#cfcfca"/>
<path d="M1238.5,216.6 L1253.5,216.6 Q1255.3,216.6 1255.4,218.5 L1256.3,251.5 Q1256.3,253.4 1254.4,253.4 L1239.8,253.4 Q1237.8,253.4 1237.3,251.5 L1233.6,240 L1236.7,218.5 Q1236.9,216.6 1238.5,216.6 Z" fill="#222324"/>
<circle cx="1231.8" cy="248.4" r="2.5" fill="#b4b4b0" stroke="#7a7a76" stroke-width="0.4"/><circle cx="1231.4" cy="247.9" r="1" fill="#e8e8e4"/>
<circle cx="1246.3" cy="241.8" r="2.7" fill="#c9a050"/><circle cx="1246.3" cy="241.8" r="1.1" fill="#5a3a14"/>
<rect x="1240" y="221.8" width="13" height="1.3" fill="#d8d8d8"/>
<rect x="1240" y="224.5" width="8" height="0.8" fill="#9a9a9a"/>
<rect x="1240" y="232" width="13" height="0.8" fill="#9a9a9a"/><rect x="1241" y="234" width="10" height="0.8" fill="#9a9a9a"/>
<path d="M1250.5,230.5 L1252,228 L1253.5,230.5 Z" fill="none" stroke="#aaa" stroke-width="0.35"/>
<path d="M1240.5,249 L1242.3,246 L1244.1,249 Z" fill="#e8c820"/>
<rect x="1245.5" y="246.3" width="5" height="0.8" fill="#d8b020"/><rect x="1245.5" y="248" width="6" height="0.8" fill="#d8b020"/>
</g><g transform="translate(40.5,0)">
<rect x="1243" y="214.8" width="6" height="2.5" fill="#cfcfca"/>
<path d="M1238.5,216.6 L1253.5,216.6 Q1255.3,216.6 1255.4,218.5 L1256.3,251.5 Q1256.3,253.4 1254.4,253.4 L1239.8,253.4 Q1237.8,253.4 1237.3,251.5 L1233.6,240 L1236.7,218.5 Q1236.9,216.6 1238.5,216.6 Z" fill="#222324"/>
<circle cx="1231.8" cy="248.4" r="2.5" fill="#b4b4b0" stroke="#7a7a76" stroke-width="0.4"/><circle cx="1231.4" cy="247.9" r="1" fill="#e8e8e4"/>
<circle cx="1246.3" cy="241.8" r="2.7" fill="#c9a050"/><circle cx="1246.3" cy="241.8" r="1.1" fill="#5a3a14"/>
<rect x="1240" y="221.8" width="13" height="1.3" fill="#d8d8d8"/>
<rect x="1240" y="224.5" width="8" height="0.8" fill="#9a9a9a"/>
<rect x="1240" y="232" width="13" height="0.8" fill="#9a9a9a"/><rect x="1241" y="234" width="10" height="0.8" fill="#9a9a9a"/>
<path d="M1250.5,230.5 L1252,228 L1253.5,230.5 Z" fill="none" stroke="#aaa" stroke-width="0.35"/>
<path d="M1240.5,249 L1242.3,246 L1244.1,249 Z" fill="#e8c820"/>
<rect x="1245.5" y="246.3" width="5" height="0.8" fill="#d8b020"/><rect x="1245.5" y="248" width="6" height="0.8" fill="#d8b020"/>
</g><g transform="translate(120.8,0.8)">
<rect x="1243" y="214.8" width="6" height="2.5" fill="#cfcfca"/>
<path d="M1238.5,216.6 L1253.5,216.6 Q1255.3,216.6 1255.4,218.5 L1256.3,251.5 Q1256.3,253.4 1254.4,253.4 L1239.8,253.4 Q1237.8,253.4 1237.3,251.5 L1233.6,240 L1236.7,218.5 Q1236.9,216.6 1238.5,216.6 Z" fill="#222324"/>
<circle cx="1231.8" cy="248.4" r="2.5" fill="#b4b4b0" stroke="#7a7a76" stroke-width="0.4"/><circle cx="1231.4" cy="247.9" r="1" fill="#e8e8e4"/>
<circle cx="1246.3" cy="241.8" r="2.7" fill="#c9a050"/><circle cx="1246.3" cy="241.8" r="1.1" fill="#5a3a14"/>
<rect x="1240" y="221.8" width="13" height="1.3" fill="#d8d8d8"/>
<rect x="1240" y="224.5" width="8" height="0.8" fill="#9a9a9a"/>
<rect x="1240" y="232" width="13" height="0.8" fill="#9a9a9a"/><rect x="1241" y="234" width="10" height="0.8" fill="#9a9a9a"/>
<path d="M1250.5,230.5 L1252,228 L1253.5,230.5 Z" fill="none" stroke="#aaa" stroke-width="0.35"/>
<path d="M1240.5,249 L1242.3,246 L1244.1,249 Z" fill="#e8c820"/>
<rect x="1245.5" y="246.3" width="5" height="0.8" fill="#d8b020"/><rect x="1245.5" y="248" width="6" height="0.8" fill="#d8b020"/>
</g>
<g font-size="3" font-weight="bold" fill="#444"><text x="1227.8" y="222.8">1</text><text x="1267.4" y="222.8">3</text></g>
<text x="1187.5" y="222.8" font-size="3" font-weight="bold" fill="#fff">2</text>
<g fill="#333" font-size="2"><text x="1232" y="255">&#x25B3;&#x25B3;&#x25B3; TekConnect Interface</text></g>
<rect x="1304" y="229.6" width="16.4" height="21.5" fill="#f3e71f"/>
<g fill="#222" font-size="2.2" font-weight="bold"><text x="1306" y="233">CAUTION</text></g>
<g fill="#333" font-size="1.6"><text x="1306" y="236">Static Sensitive</text><text x="1306" y="241">Use proper</text><text x="1306" y="243.5">ESD precautions</text><text x="1306" y="246">to prevent</text><text x="1306" y="248.5">damage</text></g>
<path d="M1222,252.5 L1322,252.5" stroke="#bdbdb9" stroke-width="0.8"/>
<path d="M1345,253 L1398,253" stroke="#bdbdb9" stroke-width="0.8"/>
</g>
</defs>
<use href="#scopeBody"/>
<use href="#scopeBody" transform="translate(0,131.2)"/>

<g id="screen1">
<rect x="1044.2" y="156.4" width="120" height="90" fill="#22338e"/>
<rect x="1045" y="156.8" width="118.5" height="3.8" fill="#1f2e86"/>
<g fill="#b8c2e8"><rect x="1047" y="158" width="3" height="1"/><rect x="1052" y="158" width="3" height="1"/><rect x="1057" y="158" width="4" height="1"/><rect x="1063" y="158" width="4" height="1"/><rect x="1069" y="158" width="5" height="1"/><rect x="1076" y="158" width="3" height="1"/><rect x="1081" y="158" width="4" height="1"/><rect x="1087" y="158" width="5" height="1"/><rect x="1094" y="158" width="4" height="1"/><rect x="1100" y="158" width="3" height="1"/><rect x="1105" y="158" width="3" height="1"/><rect x="1110" y="158" width="5" height="1"/><rect x="1117" y="158" width="4" height="1"/><rect x="1123" y="158" width="4" height="1"/></g>
<rect x="1129" y="157.2" width="3" height="3" fill="#4aa0f0"/>
<rect x="1150" y="157.6" width="4" height="2" fill="#dfe4f4"/>
<circle cx="1155.4" cy="158.6" r="1.5" fill="#3a8ef0"/>
<circle cx="1160.2" cy="158.6" r="1.5" fill="#e04a30"/>
<rect x="1046" y="160.6" width="117" height="49.6" fill="#050505"/>
<g stroke="#3a3a3a" stroke-width="0.35" stroke-dasharray="0.6 1.2">
<path d="M1060.5,161 V197 M1075,161 V197 M1089.5,161 V197 M1104,161 V197 M1118.5,161 V197 M1133,161 V197 M1147.5,161 V197"/>
<path d="M1047,168 H1162 M1047,173 H1162 M1047,183 H1162 M1047,188 H1162 M1047,193 H1162"/>
</g>
<path d="M1047,177.8 H1162" stroke="#555" stroke-width="0.4" stroke-dasharray="0.8 0.8"/>
<path d="M1104.6,161 V200" stroke="#5a5a5a" stroke-width="0.4"/>
<path d="M1047,197.4 H1162" stroke="#7a4a20" stroke-width="0.5"/>
<path d="M1047,161.8 H1162" stroke="#5a3a18" stroke-width="0.4" stroke-dasharray="1.5 4"/>
<path d="M1046.5,166.2 L1049.5,165.8 Q1050.1,188.2 1050.8,189.2 L1052.6,189.2 L1052.6,189.2 Q1053.3,167.2 1053.9,166.2 L1056.8,165.8 Q1057.4,188.2 1058.1,189.2 L1060.4,189.2 L1060.4,189.2 Q1061.1,167.2 1061.7,166.2 L1064.4,165.8 Q1065.0,188.2 1065.7,189.2 L1068.1,189.2 L1068.1,189.2 Q1068.8,167.2 1069.4,166.2 L1071.9,165.8 Q1072.5,188.2 1073.2,189.2 L1075.9,189.2 L1075.9,189.2 Q1076.6,167.2 1077.2,166.2 L1079.9,165.8 Q1080.5,188.2 1081.2,189.2 L1083.5,189.2 L1083.5,189.2 Q1084.2,167.2 1084.8,166.2 L1087.6,165.8 Q1088.2,188.2 1088.9,189.2 L1090.7,189.2 L1090.7,189.2 Q1091.4,167.2 1092.0,166.2 L1095.3,165.8 Q1095.9,188.2 1096.6,189.2 L1098.7,189.2 L1098.7,189.2 Q1099.4,167.2 1100.0,166.2 L1102.5,165.8 Q1103.1,188.2 1103.8,189.2 L1106.2,189.2 L1106.2,189.2 Q1106.9,167.2 1107.5,166.2 L1110.5,165.8 Q1111.1,188.2 1111.8,189.2 L1113.7,189.2 L1113.7,189.2 Q1114.4,165.2 1115.0,164.2 L1122.2,163.0 Q1122.8,189.7 1123.5,190.7 L1137.3,190.7 L1137.3,189.2 Q1138.0,165.2 1138.6,164.2 L1145.5,163.0 Q1146.1,189.7 1146.8,190.7 L1152.4,190.7 L1152.4,189.2 Q1153.1,167.2 1153.7,166.2 L1157.5,165.8 Q1158.1,188.2 1158.8,189.2 L1162.5,189.2" fill="none" stroke="#9a9426" stroke-width="0.5"/>
<path d="M1045.6,176.2 L1048,177.8 L1045.6,179.4 Z" fill="#e8d830"/>
<path d="M1163,176.8 L1161.5,177.8 L1163,178.8 Z" fill="#e8d830"/>
<g fill="#c9c22a"><rect x="1049" y="199.6" width="3" height="1.4"/><rect x="1114.5" y="199.6" width="3" height="1.4"/></g>
<g fill="none" stroke="#3a3a3a" stroke-width="0.3"><rect x="1048" y="198.8" width="32" height="3"/><rect x="1113.5" y="198.8" width="20" height="6"/><rect x="1136" y="198.8" width="26" height="9.5"/></g>
<g fill="#9a9a9a"><rect x="1054" y="199.9" width="6" height="0.9"/><rect x="1066" y="199.9" width="7" height="0.9"/><rect x="1119" y="199.9" width="5" height="0.9"/><rect x="1116" y="202.5" width="12" height="0.9"/><rect x="1138" y="199.9" width="6" height="0.9"/><rect x="1147" y="199.9" width="6" height="0.9"/><rect x="1138" y="202.6" width="20" height="0.9"/><rect x="1138" y="205" width="22" height="0.9"/></g>
<rect x="1137" y="201" width="6" height="1.2" fill="#b02020"/>
<rect x="1155" y="206.8" width="6" height="0.9" fill="#c07020"/>
<!-- blue control panel -->
<rect x="1046" y="210" width="117" height="35.3" fill="#3b4fa4"/>
<rect x="1046" y="244" width="117" height="1.4" fill="#283a8a"/>
<rect x="1048" y="213.5" width="7.6" height="29" fill="#3f55aa"/>
<g fill="#4d98e6"><rect x="1048" y="215.5" width="7.6" height="3.4"/><rect x="1048" y="223.3" width="7.6" height="4"/><rect x="1048" y="227.7" width="7.6" height="3.6"/><rect x="1048" y="231.5" width="7.6" height="4"/></g>
<rect x="1048" y="219.3" width="7.6" height="3.7" fill="#ee8a2a"/>
<defs><linearGradient id="inPan" x1="0" y1="0" x2="0" y2="1"><stop offset="0" stop-color="#8d9fd6"/><stop offset="1" stop-color="#7386c6"/></linearGradient></defs>
<rect x="1056" y="212.3" width="83.7" height="30.4" fill="url(#inPan)"/>
<rect x="1056" y="212.3" width="83.7" height="2.3" fill="#a2b2e0"/>
<rect x="1057" y="212.8" width="12" height="1.2" fill="#3a4f9c" opacity="0.7"/>
<rect x="1056.5" y="216.3" width="22" height="2.4" fill="#a8c4f0"/>
<rect x="1058" y="219" width="6" height="2.3" fill="#f0c090"/><rect x="1064.5" y="219" width="12" height="2.3" fill="#f4f6fb"/>
<rect x="1082" y="224.3" width="4.5" height="1.6" rx="0.8" fill="#3e7ad8"/>
<rect x="1088.8" y="216.4" width="28.2" height="17.7" fill="#eceef2"/>
<path d="M1094,224 h4 v-6 h5 v6 h2 v-6 h4 v6 h3" fill="none" stroke="#8ac090" stroke-width="0.6"/>
<rect x="1093.5" y="221" width="5" height="2.5" rx="1" fill="none" stroke="#777" stroke-width="0.3"/>
<rect x="1108" y="228" width="5" height="2.5" rx="1" fill="none" stroke="#777" stroke-width="0.3"/>
<rect x="1120.5" y="220.5" width="16.5" height="2.3" fill="#e6eaf4"/>
<rect x="1125.5" y="228" width="5.5" height="2.5" rx="1.2" fill="#f0922a"/>
<g fill="#5a74c4"><rect x="1126" y="232.5" width="4.5" height="2"/><rect x="1126" y="236.8" width="4.5" height="2"/></g>
<rect x="1147.5" y="214.3" width="5.5" height="2.7" rx="1.2" fill="#f0922a"/>
<g fill="#7288cc" stroke="#9aaee0" stroke-width="0.3">
<ellipse cx="1146" cy="222.5" rx="2.8" ry="1.2"/><ellipse cx="1154" cy="222.5" rx="2.8" ry="1.2"/><ellipse cx="1150" cy="226.5" rx="2.8" ry="1.2"/>
<ellipse cx="1146" cy="234.3" rx="3" ry="1.2"/><ellipse cx="1154" cy="234.3" rx="3" ry="1.2"/>
<ellipse cx="1146" cy="241" rx="2.8" ry="1.2"/><ellipse cx="1154" cy="241" rx="2.8" ry="1.2"/>
</g>
<rect x="1142" y="229.3" width="14" height="0.6" fill="#5a6eb8"/><rect x="1142" y="236.5" width="14" height="0.6" fill="#5a6eb8"/>
<circle cx="1160.5" cy="212.8" r="1" fill="#e8ecf8"/>
</g>
<rect x="1056" y="211.6" width="83.4" height="31.7" fill="#8aa4e2"/>
<rect x="1056" y="211.6" width="83.4" height="2.4" fill="#6a86d4"/>
<rect x="1057" y="212" width="18" height="1.6" fill="#dde6fa" opacity="0.8"/>
<rect x="1060" y="216" width="25" height="3" fill="#b6c8f0"/>
<rect x="1062" y="218" width="9" height="2" fill="#f0f4ff"/>
<rect x="1072" y="218" width="10" height="2" fill="#f0f4ff"/>
<rect x="1081" y="224" width="5" height="1.6" fill="#3454b0"/>
<rect x="1089.4" y="216" width="26.7" height="17.3" fill="#f4f6fa"/>
<path d="M1092,227 h5 v-5 h5 v5 h2 v-6 h4 v6 h5" fill="none" stroke="#52a070" stroke-width="0.5"/>
<rect x="1094" y="224.8" width="4" height="2" fill="none" stroke="#666" stroke-width="0.3"/>
<rect x="1106" y="229" width="4" height="2" fill="none" stroke="#666" stroke-width="0.3"/>
<rect x="1118" y="222" width="16" height="2" fill="#e8eefc"/>
<rect x="1125" y="228" width="5" height="2.5" fill="#f0902a"/>
<g fill="#4666c4"><rect x="1125" y="233" width="5" height="2"/><rect x="1125" y="237" width="5" height="2"/></g>
<rect x="1147" y="214.4" width="5.8" height="2.3" fill="#f08a28"/>
<g fill="#6a8ce0" stroke="#aac0f4" stroke-width="0.3">
<ellipse cx="1144" cy="220" rx="3" ry="1.3"/><ellipse cx="1152" cy="220" rx="3" ry="1.3"/><ellipse cx="1148" cy="224" rx="3" ry="1.3"/>
<ellipse cx="1144" cy="231" rx="3" ry="1.3"/><ellipse cx="1152" cy="231" rx="3" ry="1.3"/>
<ellipse cx="1144" cy="239" rx="3" ry="1.3"/><ellipse cx="1152" cy="239" rx="3" ry="1.3"/>
</g>
<rect x="1140" y="227" width="16" height="0.8" fill="#2a3e90"/><rect x="1140" y="235" width="16" height="0.8" fill="#2a3e90"/>
</g>


<defs>
<clipPath id="eyeClip"><rect x="1044" y="287" width="120.5" height="88.5"/></clipPath>
<filter id="blur1" x="-10%" y="-10%" width="120%" height="120%"><feGaussianBlur stdDeviation="1.2"/></filter>
<filter id="blur05"><feGaussianBlur stdDeviation="0.5"/></filter>
</defs>
<g id="screen2" clip-path="url(#eyeClip)">
<rect x="1044" y="287" width="120.5" height="88.5" fill="#d81a12"/>
<rect x="1050" y="300" width="110" height="60" fill="#c01410" opacity="0.5" filter="url(#blur1)"/>
<g filter="url(#blur1)">
<!-- top band -->
<path d="M1066,287 L1106,287 L1103,293 L1072,293 Z" fill="#f4e43a"/>
<path d="M1071,287 L1102,287 L1101,290 L1074,290 Z" fill="#40c8f0"/>
<path d="M1150,287 L1165,287 L1165,294 L1153,294 Z" fill="#f4e43a"/>
<path d="M1154,287 L1165,287 L1165,290 L1156,290 Z" fill="#40c8f0"/>
<!-- bottom band -->
<path d="M1066,375.5 L1118,375.5 L1114,364 L1070,364 Z" fill="#f4e43a"/>
<path d="M1069,375.5 L1116,375.5 L1113,367 L1073,367 Z" fill="#40c8f0"/>
<path d="M1150,375.5 L1165,375.5 L1165,364 L1153,364 Z" fill="#f4e43a"/>
<path d="M1153,375.5 L1165,375.5 L1165,367 L1155,367 Z" fill="#40c8f0"/>
<!-- left/right small yellow marks -->
<ellipse cx="1046" cy="328.6" rx="2" ry="3" fill="#f4b020"/>
<ellipse cx="1163" cy="328.6" rx="2" ry="3" fill="#f4b020"/>
<!-- eye contours -->
<path d="M1073.0,329.0 Q1087.3,315.1 1106.5,310.0 Q1125.7,315.1 1140.0,329.0 Q1125.7,342.9 1106.5,348.0 Q1087.3,342.9 1073.0,329.0 Z" fill="#ee5a10"/>
<path d="M1077.0,329.0 Q1089.8,317.2 1106.5,312.5 Q1123.2,317.2 1136.0,329.0 Q1123.2,340.8 1106.5,345.5 Q1089.8,340.8 1077.0,329.0 Z" fill="#f59a18"/>
</g>
<g filter="url(#blur05)">
<path d="M1080.0,329.0 Q1091.8,319.1 1106.5,314.5 Q1121.2,319.1 1133.0,329.0 Q1121.2,338.9 1106.5,343.5 Q1091.8,338.9 1080.0,329.0 Z" fill="#f8d81e"/>
<path d="M1083.5,329.0 Q1094.1,320.9 1106.8,316.5 Q1119.4,320.9 1130.0,329.0 Q1119.4,337.1 1106.8,341.5 Q1094.1,337.1 1083.5,329.0 Z" fill="#d8e838"/>
<path d="M1086.0,329.0 Q1095.6,322.4 1106.5,318.3 Q1117.4,322.4 1127.0,329.0 Q1117.4,335.6 1106.5,339.7 Q1095.6,335.6 1086.0,329.0 Z" fill="#38c8f0"/>
<path d="M1089.0,329.0 Q1097.5,324.0 1106.8,320.5 Q1116.0,324.0 1124.5,329.0 Q1116.0,334.0 1106.8,337.5 Q1097.5,334.0 1089.0,329.0 Z" fill="#1a3ee8"/>
</g>
<path d="M1092.2,329.0 Q1099.6,325.8 1107.0,322.5 Q1114.4,325.8 1121.8,329.0 Q1114.4,332.2 1107.0,335.5 Q1099.6,332.2 1092.2,329.0 Z" fill="#e8e8ff"/>
<path d="M1094.3,329.0 Q1100.7,326.3 1107.0,323.6 Q1113.3,326.3 1119.7,329.0 Q1113.3,331.7 1107.0,334.4 Q1100.7,331.7 1094.3,329.0 Z" fill="#000"/>
<rect x="1073" y="369" width="42" height="7" fill="#000" filter="url(#blur05)"/>
<rect x="1156" y="370" width="10" height="6" fill="#000" filter="url(#blur05)"/>
<!-- dotted contour lines -->
<g fill="none" stroke-dasharray="0.7 1.1" stroke-width="0.7">
<path d="M1078.5,329.0 Q1090.8,318.2 1106.5,313.5 Q1122.2,318.2 1134.5,329.0 Q1122.2,339.8 1106.5,344.5 Q1090.8,339.8 1078.5,329.0 Z" stroke="#f8c060"/>
<path d="M1087.5,329.0 Q1096.6,323.2 1106.7,319.4 Q1116.7,323.2 1125.8,329.0 Q1116.7,334.8 1106.7,338.6 Q1096.6,334.8 1087.5,329.0 Z" stroke="#1a40c0"/>
<path d="M1104,311 Q1125,311 1140,329 Q1125,347 1104,347" stroke="#e040b0"/>
<rect x="1068.5" y="307" width="72.5" height="42.5" rx="7" stroke="#60a040"/>
</g>
<!-- grid -->
<g fill="none" stroke="#f0d8d0" stroke-width="0.45" opacity="0.85">
<path d="M1066,294 L1164.5,294 M1066,364.5 L1164.5,364.5 M1066,294 L1066,364.5"/>
</g>
<g fill="none" stroke="#f0c0b0" stroke-width="0.35" stroke-dasharray="0.8 1" opacity="0.8">
<path d="M1080,287 V375 M1106.3,287 V375 M1143,287 V375 M1044,328.6 H1164"/>
</g>
<!-- eye boundary blue/purple lines -->
<g fill="none" stroke="#4a2ac8" stroke-width="0.8">
<path d="M1044,314.5 C1058,322 1062,326 1068.8,328.6 C1085,338 1100,349 1118,351 C1135,352 1150,350 1164.5,343"/>
<path d="M1044,342.5 C1058,336 1062,331 1068.8,328.6 C1085,318 1100,309 1118,306.5 C1135,305 1150,307 1164.5,314"/>
</g>
</g>


</g>

<!-- cables to scopes (on top) -->
<g fill="none" stroke="#231f20" stroke-width="2.9">
<path d="M794,304.4 C900,291.5 1000,281.5 1116.7,260.5 C1160,253 1190,249 1205.8,243"/>
<path d="M794,371.6 C835,376.6 860,377.1 890,377.1 L1205.8,375.4"/>
</g>
</svg>
</body></html>
